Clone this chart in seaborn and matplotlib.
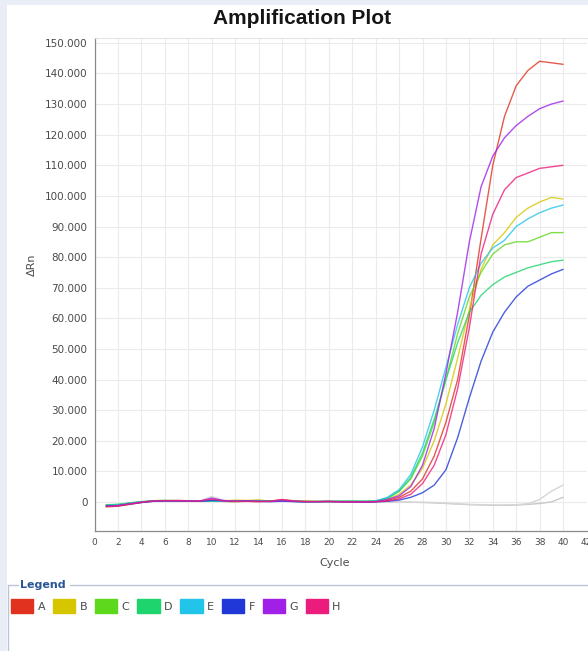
import numpy as np
import pandas as pd
import matplotlib
matplotlib.use("Agg")
import matplotlib.pyplot as plt
from matplotlib.patches import Patch, Rectangle
from matplotlib.lines import Line2D
from matplotlib.ticker import FuncFormatter
import seaborn as sns

# ---- data: delta Rn per cycle for wells A-H and two no-template controls ----
cycles = list(range(1, 41))
wells = ["A", "B", "C", "D", "E", "F", "G", "H"]
well_colors = ["#E0321E", "#D6C600", "#5ED81C", "#1ED46C",
               "#22C4EA", "#2038D8", "#A020E8", "#EC1C7C"]

rn_A = [-1600, -1400, -800, -200, 200, 400, 500, 400, 300, 300, 200, 100, 200, 100, 300, 700,
        400, 200, 100, 200, 100, 0, 0, 100,
        500, 1500, 3500, 7500, 15000, 26000, 40000, 61000, 86000, 110000, 126000, 136000,
        141000, 144000, 143500, 143000]
rn_B = [-1200, -1000, -500, 0, 400, 500, 300, 200, 300, 400, 300, 600, 500, 700, 200, 300,
        200, 300, 100, 100, 200, 200, 100, 200,
        800, 2500, 5500, 11000, 20000, 32000, 47000, 63000, 76000, 84000, 88000, 93000,
        96000, 98000, 99500, 99000]
rn_C = [-1000, -900, -400, 0, 300, 400, 300, 300, 300, 200, 200, 100, 300, 400, 200, 200,
        200, 100, 200, 100, 200, 300, 200, 300,
        1200, 3500, 7500, 15000, 26000, 40000, 55000, 67000, 75000, 81000, 84000, 85000,
        85000, 86500, 88000, 88000]
rn_D = [-900, -800, -300, 100, 400, 500, 400, 300, 300, 300, 200, 200, 300, 300, 200, 300,
        200, 100, 100, 200, 200, 200, 200, 300,
        1200, 3500, 8000, 16000, 27000, 40000, 52000, 62000, 67500, 71000, 73500, 75000,
        76500, 77500, 78500, 79000]
rn_E = [-1100, -1000, -500, 0, 300, 400, 300, 300, 200, 300, 200, 200, 200, 200, 100, 200,
        200, 100, 100, 200, 200, 200, 200, 300,
        1500, 4000, 9000, 18000, 30000, 44000, 58000, 70000, 78000, 83000, 85500, 90000,
        92500, 94500, 96000, 97000]
rn_F = [-1300, -1200, -700, -200, 200, 300, 300, 300, 200, 500, 400, 200, 300, 200, 200, 300,
        100, 0, 100, 100, 0, 0, -100, 0,
        200, 600, 1500, 3000, 5500, 10500, 21000, 34000, 46000, 55500, 62000, 67000,
        70500, 72500, 74500, 76000]
rn_G = [-1400, -1200, -600, -100, 300, 400, 400, 300, 300, 1200, 500, 200, 300, 200, 100, 300,
        200, 100, 100, 100, 100, 0, 0, 100,
        800, 2000, 5000, 12000, 24000, 42000, 62000, 85000, 103000, 113000, 119000, 123000,
        126000, 128500, 130000, 131000]
rn_H = [-1500, -1300, -700, -100, 300, 400, 400, 300, 300, 900, 300, 200, 200, 100, 200, 800,
        300, 100, 100, 200, 0, 0, 0, 100,
        300, 1000, 2500, 6000, 12000, 22000, 37000, 57000, 81000, 94000, 102000, 106000,
        107500, 109000, 109500, 110000]

ntc_1 = [-1000, -800, -400, 0, 300, 400, 300, 300, 300, 1500, 400, 300, 300, 200, 200, 300,
         200, 100, 100, 100, 100, 0, 0, 0,
         0, 0, -100, -200, -300, -500, -700, -900, -1000, -1100, -1100, -1000,
         -800, -500, 0, 1500]
ntc_2 = [-1200, -900, -500, 0, 200, 300, 300, 200, 300, 1800, 500, 200, 200, 300, 100, 200,
         100, 100, 0, 100, 0, 0, 0, 0,
         100, 0, -100, -100, -200, -400, -600, -800, -900, -1000, -1000, -900,
         -600, 800, 3500, 5500]

y_ticks = list(range(0, 150001, 10000))
x_ticks = list(range(0, 43, 2))

series = [rn_A, rn_B, rn_C, rn_D, rn_E, rn_F, rn_G, rn_H]
df = pd.DataFrame({
    "Cycle": cycles * len(wells),
    "dRn": [v for s in series for v in s],
    "Well": [w for w in wells for _ in cycles],
})

# ---- styling ----
sns.set_style("white")
plt.rcParams["font.family"] = ["DejaVu Sans"]

W, H = 588, 651
fig = plt.figure(figsize=(W / 100, H / 100), dpi=100)
fig.patch.set_facecolor("#E8EDF6")
fig.add_artist(Rectangle((7 / W, 0), 1, 1 - 5 / H, transform=fig.transFigure,
                         facecolor="white", edgecolor="none", zorder=-10))

ax = fig.add_axes([94.5 / W, 1 - 531 / H, 492 / W, 493 / H])
ax.set_facecolor("white")

sns.lineplot(x=cycles, y=ntc_1, color="#C8C8C8", lw=1.0, ax=ax, zorder=2)
sns.lineplot(x=cycles, y=ntc_2, color="#D6D6D6", lw=1.0, ax=ax, zorder=2)
sns.lineplot(data=df, x="Cycle", y="dRn", hue="Well", hue_order=wells,
             palette=well_colors, lw=1.0, alpha=0.8, ax=ax, legend=False, zorder=3)

ax.set_xlim(0, 42)
ax.set_ylim(-9500, 151600)
ax.set_xticks(x_ticks)
ax.set_yticks(y_ticks)
ax.yaxis.set_major_formatter(FuncFormatter(lambda v, p: f"{int(v):,}".replace(",", ".")))
ax.grid(True, color="#EBEBEB", lw=0.8)
ax.set_axisbelow(True)
ax.tick_params(axis="both", length=3, width=0.8, color="#8A8A8A",
               labelcolor="#4A4A4A", pad=2)
ax.tick_params(axis="y", labelsize=7.5)
ax.tick_params(axis="x", labelsize=6.5)
for side in ["left", "bottom"]:
    ax.spines[side].set_color("#8A8A8A")
    ax.spines[side].set_linewidth(0.9)
ax.spines["top"].set_color("#E2E2E2")
ax.spines["right"].set_visible(False)

ax.set_xlabel("Cycle", fontsize=8, color="#4A4A4A")
ax.set_ylabel("ΔRn", fontsize=8, color="#4A4A4A")
ax.xaxis.set_label_coords(0.489, -0.055)
ax.yaxis.set_label_coords(-0.118, 0.54)

fig.text(302 / W, 1 - 19 / H, "Amplification Plot", ha="center", va="center",
         fontsize=15, fontweight="bold", color="#151515", family="Liberation Sans")

# ---- legend panel ----
frame_c = "#B9C4D6"
fig.add_artist(Line2D([8 / W, 18 / W], [1 - 585 / H] * 2, color=frame_c, lw=1,
                      transform=fig.transFigure))
fig.add_artist(Line2D([70 / W, 1], [1 - 585 / H] * 2, color=frame_c, lw=1,
                      transform=fig.transFigure))
fig.add_artist(Line2D([8 / W, 8 / W], [1 - 585 / H, 0], color=frame_c, lw=1,
                      transform=fig.transFigure))
fig.text(20 / W, 1 - 585 / H, "Legend", ha="left", va="center", fontsize=8,
         fontweight="bold", color="#2A5597")

handles = [Patch(facecolor=c, edgecolor=c, label=w) for w, c in zip(wells, well_colors)]
fig.legend(handles=handles, loc="upper left", bbox_to_anchor=(11 / W, 1 - 599 / H),
           ncol=8, frameon=False, fontsize=8, handlelength=2.0, handleheight=1.55,
           handletextpad=0.4, columnspacing=0.7, borderpad=0, borderaxespad=0,
           labelcolor="#4A4A4A")

fig.savefig("out.png", dpi=100, facecolor=fig.get_facecolor())
